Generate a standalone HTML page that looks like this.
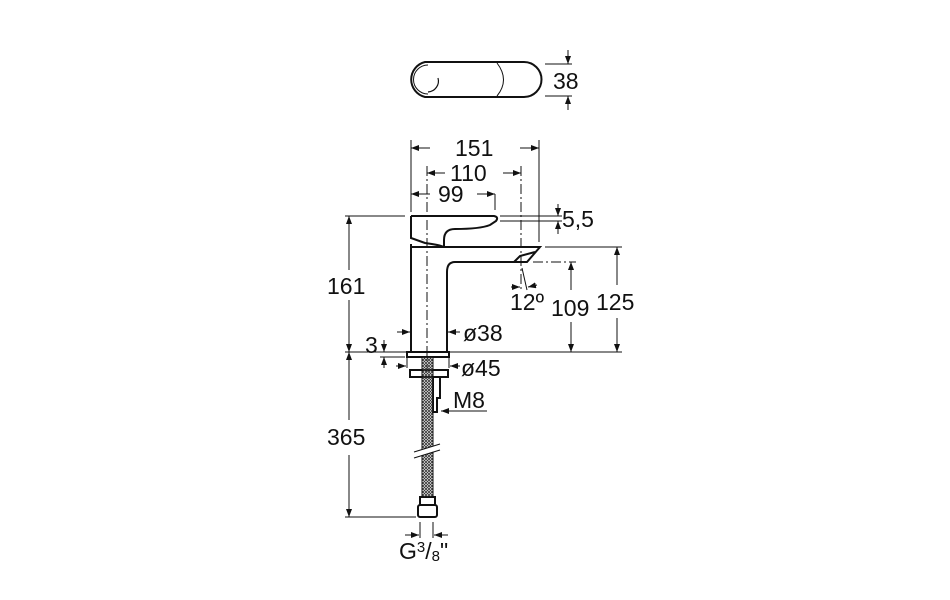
<!DOCTYPE html>
<html><head><style>
html,body{margin:0;padding:0;background:#fff}
svg{display:block}
text{font-family:"Liberation Sans",sans-serif;font-size:23px;fill:#111}
</style></head><body>
<svg width="950" height="600" viewBox="0 0 950 600">
<defs>
<marker id="a" markerWidth="8" markerHeight="6" refX="8" refY="3" orient="auto" markerUnits="userSpaceOnUse"><path d="M0,0 L8,3 L0,6z" fill="#111"/></marker>
<pattern id="h" width="3" height="3" patternUnits="userSpaceOnUse"><path d="M0,0L3,3M3,0L0,3" stroke="#333" stroke-width="0.8"/></pattern>
</defs>
<g fill="none" stroke="#111" stroke-width="1">
<!-- top view -->
<path d="M425,62 L524,62 A17,17 0 0 1 524,97 L425,97 A18,18 0 0 1 425,62 Z" stroke-width="2"/>
<path d="M428,65 A14,14 0 1 0 428,94" stroke-width="1"/>
<path d="M438,78 A11,11 0 0 1 428,92" stroke-width="1.2"/>
<path d="M497,63 Q510,80 497,96" stroke-width="1"/>
<line x1="545" y1="64" x2="572" y2="64"/><line x1="545" y1="96" x2="572" y2="96"/>
<line x1="568" y1="50" x2="568" y2="64" marker-end="url(#a)"/><line x1="568" y1="110" x2="568" y2="96" marker-end="url(#a)"/>
<line x1="411" y1="140" x2="411" y2="212"/><line x1="539" y1="140" x2="539" y2="242"/>
<line x1="430" y1="148" x2="411" y2="148" marker-end="url(#a)"/><line x1="520" y1="148" x2="539" y2="148" marker-end="url(#a)"/>
<line x1="445" y1="173" x2="427" y2="173" marker-end="url(#a)"/><line x1="503" y1="173" x2="521" y2="173" marker-end="url(#a)"/>
<line x1="430" y1="194" x2="411" y2="194" marker-end="url(#a)"/><line x1="477" y1="194" x2="495" y2="194" marker-end="url(#a)"/>
<line x1="495" y1="194" x2="495" y2="210"/>
<line x1="427" y1="166" x2="427" y2="372" stroke-dasharray="10,3,2,3"/>
<line x1="521" y1="166" x2="521" y2="290" stroke-dasharray="10,3,2,3"/>
<g stroke-width="2">
<path d="M411,216 L494,216 Q499,217 496,221 L490,225 Q480,229 455,229 Q444,229 444,240 L444,247"/>
<path d="M411,216 L411,238 L425,243 Q440,245 444,247"/>
<path d="M411,244 L411,352 M411,247 L540,247 L527,262 L514,262 L455,262 Q447,262 447,272 L447,352"/>
<path d="M514,262 L520,256 L535,252"/>
<rect x="407" y="352" width="42" height="5"/>
<rect x="410" y="370" width="38" height="7"/>
<path d="M433,377 L433,412 L437,412 L437,398 L440,398 L440,377"/>
<rect x="418" y="505" width="19" height="12" rx="2"/>
<rect x="420" y="497" width="15" height="8"/>
</g>
<rect x="422" y="357" width="11" height="140" fill="url(#h)" stroke="#111"/>
<line x1="414" y1="455" x2="440" y2="447" stroke="#fff" stroke-width="5"/>
<line x1="414" y1="452" x2="440" y2="444"/><line x1="414" y1="458" x2="440" y2="450"/>
<line x1="500" y1="216" x2="562" y2="216"/><line x1="500" y1="221" x2="562" y2="221"/>
<line x1="558" y1="204" x2="558" y2="216" marker-end="url(#a)"/><line x1="558" y1="234" x2="558" y2="221" marker-end="url(#a)"/>
<line x1="345" y1="216" x2="405" y2="216"/>
<line x1="349" y1="270" x2="349" y2="216" marker-end="url(#a)"/><line x1="349" y1="300" x2="349" y2="352" marker-end="url(#a)"/>
<line x1="345" y1="352" x2="622" y2="352"/>
<line x1="349" y1="420" x2="349" y2="352" marker-end="url(#a)"/><line x1="349" y1="455" x2="349" y2="517" marker-end="url(#a)"/>
<line x1="345" y1="517" x2="416" y2="517"/>
<line x1="545" y1="247" x2="622" y2="247"/>
<line x1="617" y1="285" x2="617" y2="247" marker-end="url(#a)"/><line x1="617" y1="318" x2="617" y2="352" marker-end="url(#a)"/>
<line x1="533" y1="262" x2="576" y2="262" stroke-dasharray="10,3,2,3"/>
<line x1="571" y1="290" x2="571" y2="262" marker-end="url(#a)"/><line x1="571" y1="322" x2="571" y2="352" marker-end="url(#a)"/>
<line x1="522" y1="268" x2="527" y2="290"/>
<line x1="511" y1="287" x2="520" y2="287" marker-end="url(#a)"/><line x1="537" y1="285" x2="528" y2="287" marker-end="url(#a)"/>
<line x1="397" y1="332" x2="410" y2="332" marker-end="url(#a)"/><line x1="460" y1="332" x2="448" y2="332" marker-end="url(#a)"/>
<line x1="380" y1="357" x2="405" y2="357"/>
<line x1="384" y1="340" x2="384" y2="352" marker-end="url(#a)"/><line x1="384" y1="368" x2="384" y2="357" marker-end="url(#a)"/>
<line x1="396" y1="366" x2="406" y2="366" marker-end="url(#a)"/><line x1="460" y1="366" x2="450" y2="366" marker-end="url(#a)"/>
<line x1="407" y1="357" x2="407" y2="368"/><line x1="449" y1="357" x2="449" y2="368"/>
<line x1="487" y1="411" x2="441" y2="411" marker-end="url(#a)"/>
<line x1="420" y1="522" x2="420" y2="538"/><line x1="433" y1="522" x2="433" y2="538"/>
<line x1="405" y1="535" x2="419" y2="535" marker-end="url(#a)"/><line x1="448" y1="535" x2="434" y2="535" marker-end="url(#a)"/>
</g>
<text x="553" y="89">38</text>
<text x="455" y="156">151</text>
<text x="450" y="181">110</text>
<text x="438" y="202">99</text>
<text x="562" y="227">5,5</text>
<text x="327" y="294">161</text>
<text x="510" y="310">12º</text>
<text x="551" y="316">109</text>
<text x="596" y="310">125</text>
<text x="463" y="341">ø38</text>
<text x="365" y="353">3</text>
<text x="461" y="376">ø45</text>
<text x="453" y="408">M8</text>
<text x="327" y="445">365</text>
<text x="399" y="559">G<tspan font-size="15" dy="-7">3</tspan><tspan dy="7">/</tspan><tspan font-size="15" dy="2">8</tspan><tspan dy="-2">"</tspan></text>
</svg>
</body></html>
